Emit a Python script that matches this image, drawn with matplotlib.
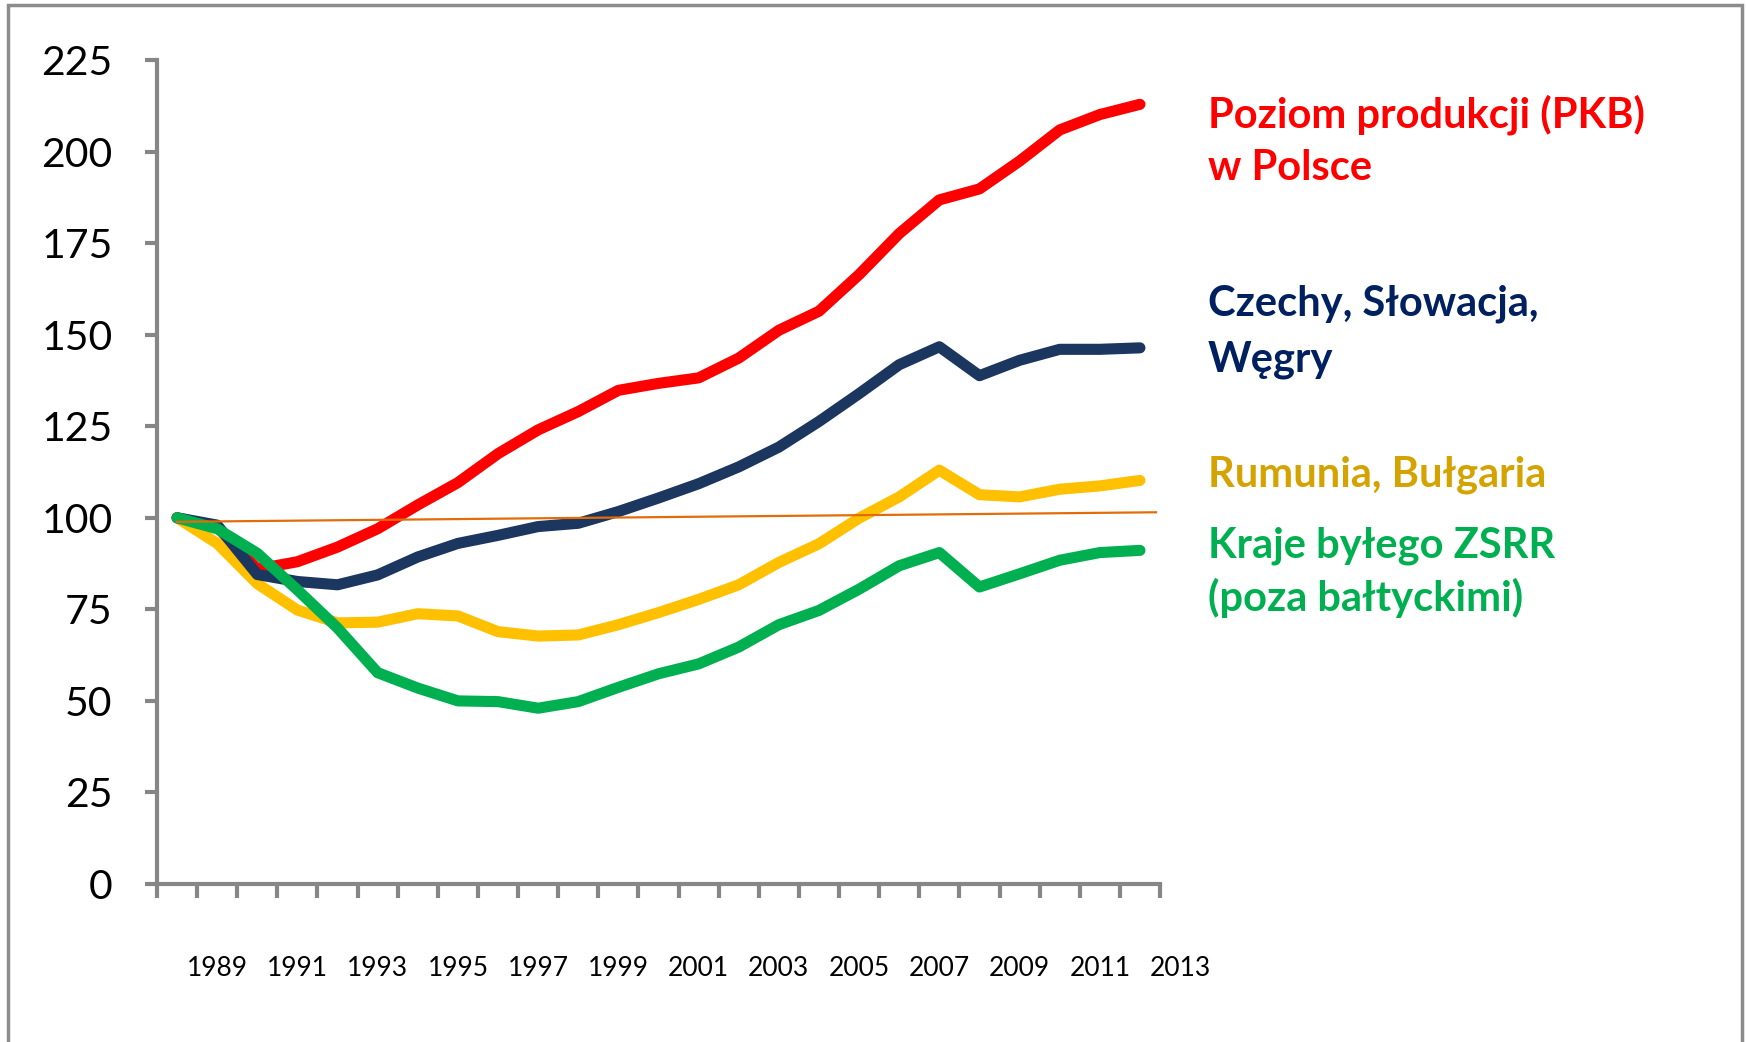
import matplotlib
matplotlib.use('Agg')
import matplotlib.pyplot as plt
from matplotlib.patches import Rectangle
import numpy as np

# Indeks PKB (1988 = 100)
years = list(range(1988, 2013))
poland = [100, 97.5, 86, 88, 92, 97, 103.5, 109.6, 117.5, 124, 129, 134.8, 136.7,
          138.2, 143.6, 151.2, 156.4, 166.4, 177.6, 186.8, 189.8, 197.4, 205.9,
          210.1, 212.9]
czsk_hu = [100, 98, 84.5, 82.6, 81.7, 84.4, 89.3, 93, 95.2, 97.6, 98.5, 101.7,
           105.4, 109.3, 113.9, 119.3, 126.3, 133.9, 141.8, 146.7, 138.8, 143,
           146, 146, 146.4]
ro_bg = [100, 93, 82, 74.8, 71.3, 71.5, 73.8, 73.2, 68.9, 67.7, 68, 70.8, 74.1,
         77.7, 81.7, 87.8, 92.9, 99.9, 105.7, 113, 106.3, 105.7, 107.8, 108.7,
         110.2]
ussr = [100, 97, 90.3, 80.3, 69.9, 57.7, 53.5, 50, 49.8, 48, 49.8, 53.7, 57.4,
        60.1, 64.7, 70.8, 74.7, 80.5, 86.9, 90.5, 81.1, 84.7, 88.4, 90.5, 91.1]

# cienka linia trendu
trend_x = [1988, 2012.4]
trend_y = [98.9, 101.5]

yticks = [0, 25, 50, 75, 100, 125, 150, 175, 200, 225]
xlabel_years = list(range(1989, 2014, 2))

# (dane, kolor linii, podpis, kolor podpisu, y podpisu w px, kolejność rysowania)
series = [
    (poland, '#FF0000', ['Poziom produkcji (PKB)', 'w Polsce'], '#FF0000', [115, 168], 2),
    (czsk_hu, '#1B365F', ['Czechy, Słowacja,', 'Węgry'], '#002060', [304, 360], 4),
    (ro_bg, '#FFC000', ['Rumunia, Bułgaria'], '#D4A300', [475], 3),
    (ussr, '#00B050', ['Kraje byłego ZSRR', '(poza bałtyckimi)'], '#00B050', [546, 598], 5),
]

W, H = 1746, 1042
fig = plt.figure(figsize=(W / 100, H / 100), dpi=100)
ax = fig.add_axes([157 / W, 1 - 884 / H, (1160 - 157) / W, (884 - 60) / H])

ax.plot(trend_x, trend_y, color='#E36C09', lw=1.6, zorder=6)
for vals, col, _, _, _, z in series:
    ax.plot(years, vals, color=col, lw=8, solid_capstyle='round',
            solid_joinstyle='round', zorder=z)

ax.set_xlim(1987.5, 2012.5)
ax.set_ylim(0, 225)

gray = '#868686'
for side in ['top', 'right']:
    ax.spines[side].set_visible(False)
for side in ['left', 'bottom']:
    ax.spines[side].set_color(gray)
    ax.spines[side].set_linewidth(3)

tick_font = ['Lato', 'DejaVu Sans']
ax.set_yticks(yticks)
ax.set_yticklabels([str(v) for v in yticks], fontsize=29.5, family=tick_font)
ax.tick_params(axis='y', length=9, width=3, color=gray, pad=23)

# znaczniki kategorii na granicach lat
ax.set_xticks(np.arange(1987.5, 2013, 1))
ax.set_xticklabels([])
ax.tick_params(axis='x', length=10, width=3, color=gray)

for yr in xlabel_years:
    ax.text(yr, -0.103, str(yr), transform=ax.get_xaxis_transform(),
            ha='center', va='center', fontsize=19, family=tick_font,
            clip_on=False)

for _, _, lines, tcol, ys, _ in series:
    for txt, yy in zip(lines, ys):
        fig.text(1208 / W, 1 - yy / H, txt, color=tcol, fontsize=30,
                 fontweight='bold', family=['Lato', 'DejaVu Sans'],
                 ha='left', va='center')

# ramka wokół wykresu
fig.patches.append(Rectangle((8 / W, -0.05), (1742 - 8) / W, 1.05 - 5 / H,
                             transform=fig.transFigure, fill=False,
                             edgecolor='#8C8C8C', lw=2.5))

fig.savefig('out.png', dpi=100)
